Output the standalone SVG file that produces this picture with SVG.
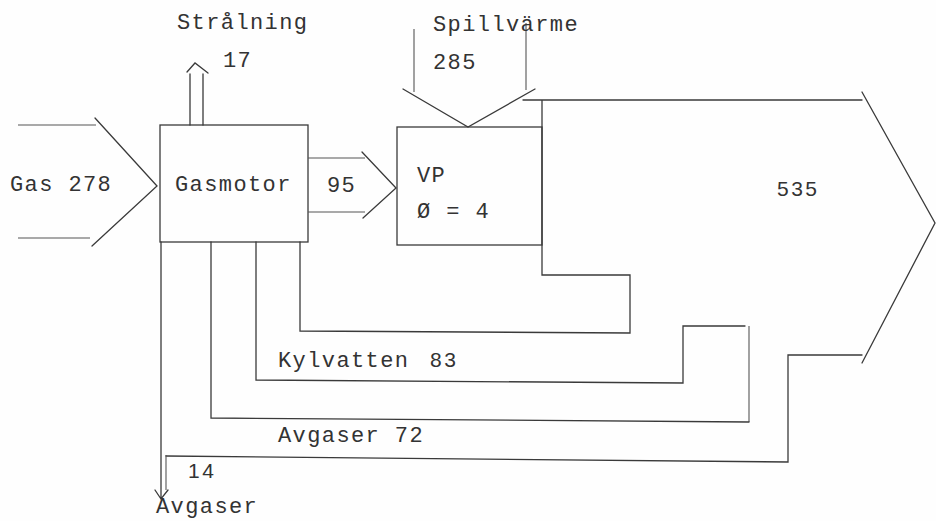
<svg xmlns="http://www.w3.org/2000/svg" width="936" height="521" viewBox="0 0 936 521">
<style>
.l{stroke:#3a3a3a;stroke-width:1.3;fill:none;stroke-linecap:round;stroke-linejoin:miter}
.f{stroke:#555;stroke-width:1.1;fill:none}
.t{font-family:"Liberation Mono","DejaVu Sans Mono",monospace;font-size:22px;letter-spacing:1.4px;fill:#333}
.s{font-family:"Liberation Sans",Arial,sans-serif;font-size:21px;letter-spacing:2.5px;fill:#333}
</style>
<rect width="936" height="521" fill="#fefefe"/>
<g id="gasmotor">
<rect class="l" x="160" y="125" width="148" height="117"/>
<text class="t" x="175" y="191">Gasmotor</text>
</g>
<g id="vp">
<rect class="l" x="397" y="127" width="145" height="118"/>
<text class="t" x="417" y="182">VP</text>
<text class="t" x="417" y="218">Ø = 4</text>
</g>
<g id="connectors">
<path class="f" d="M18 125H96M18 238H90"/>
<path class="l" d="M95 118L157 186L92 246"/>
<path class="l" d="M190 125V74M203 125V74M187 72L195 63L208 73"/>
<path class="f" d="M308 158H365M308 212H365"/>
<path class="l" d="M362 152L396 188L363 218"/>
<path class="f" d="M414 29V92M526 23V90"/>
<path class="l" d="M403 89L468 127L535 89"/>
<path class="l" d="M523 100H862M542 100V275H630V333L300 331V242"/>
<path class="l" d="M862 92L935 223L862 363"/>
<path class="l" d="M862 355H788V462L166 456"/>
<path class="f" d="M166 455V490"/>
<path class="l" d="M256 242V380L683 383V326H745"/>
<path class="f" d="M749 326V422"/>
<path class="l" d="M211 242V418L749 422"/>
<path class="l" d="M161 242V499M155 490L161 499L168 490"/>
</g>
<g id="labels">
<text class="t" x="177" y="29">Strålning</text>
<text class="t" x="223" y="67">17</text>
<text class="t" x="433" y="31">Spillvärme</text>
<text class="t" x="433" y="69">285</text>
<text class="t" x="10" y="191">Gas 278</text>
<text class="t" x="327" y="192">95</text>
<text class="s" x="777" y="196">535</text>
<text class="t" x="278" y="367">Kylvatten <tspan class="s" x="430">83</tspan></text>
<text class="t" x="278" y="442">Avgaser 72</text>
<text class="s" x="188" y="478">14</text>
<text class="t" x="156" y="513">Avgaser</text>
</g>
</svg>
